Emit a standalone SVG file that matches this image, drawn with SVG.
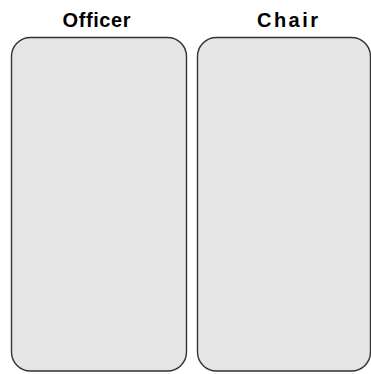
<svg xmlns="http://www.w3.org/2000/svg" width="371" height="374" viewBox="0 0 371 374">
<style>
.lane{fill:#e5e5e5;stroke:#333;stroke-width:1.4}
.t{font-family:"Liberation Sans",Arial,sans-serif;font-weight:bold;font-size:20px;fill:#000}
</style>
<rect width="371" height="374" fill="#fff"/>
<g id="officer">
<rect class="lane" x="11.5" y="37.5" width="175" height="333.5" rx="19" ry="19"/>
<text class="t" x="62.5" y="26.7" textLength="68" lengthAdjust="spacing">Officer</text>
</g>
<g id="chair">
<rect class="lane" x="197.5" y="37.5" width="173" height="333.5" rx="19" ry="19"/>
<text class="t" x="257" y="26.7" textLength="61" lengthAdjust="spacing">Chair</text>
</g>
<g id="connectors"></g>
</svg>
